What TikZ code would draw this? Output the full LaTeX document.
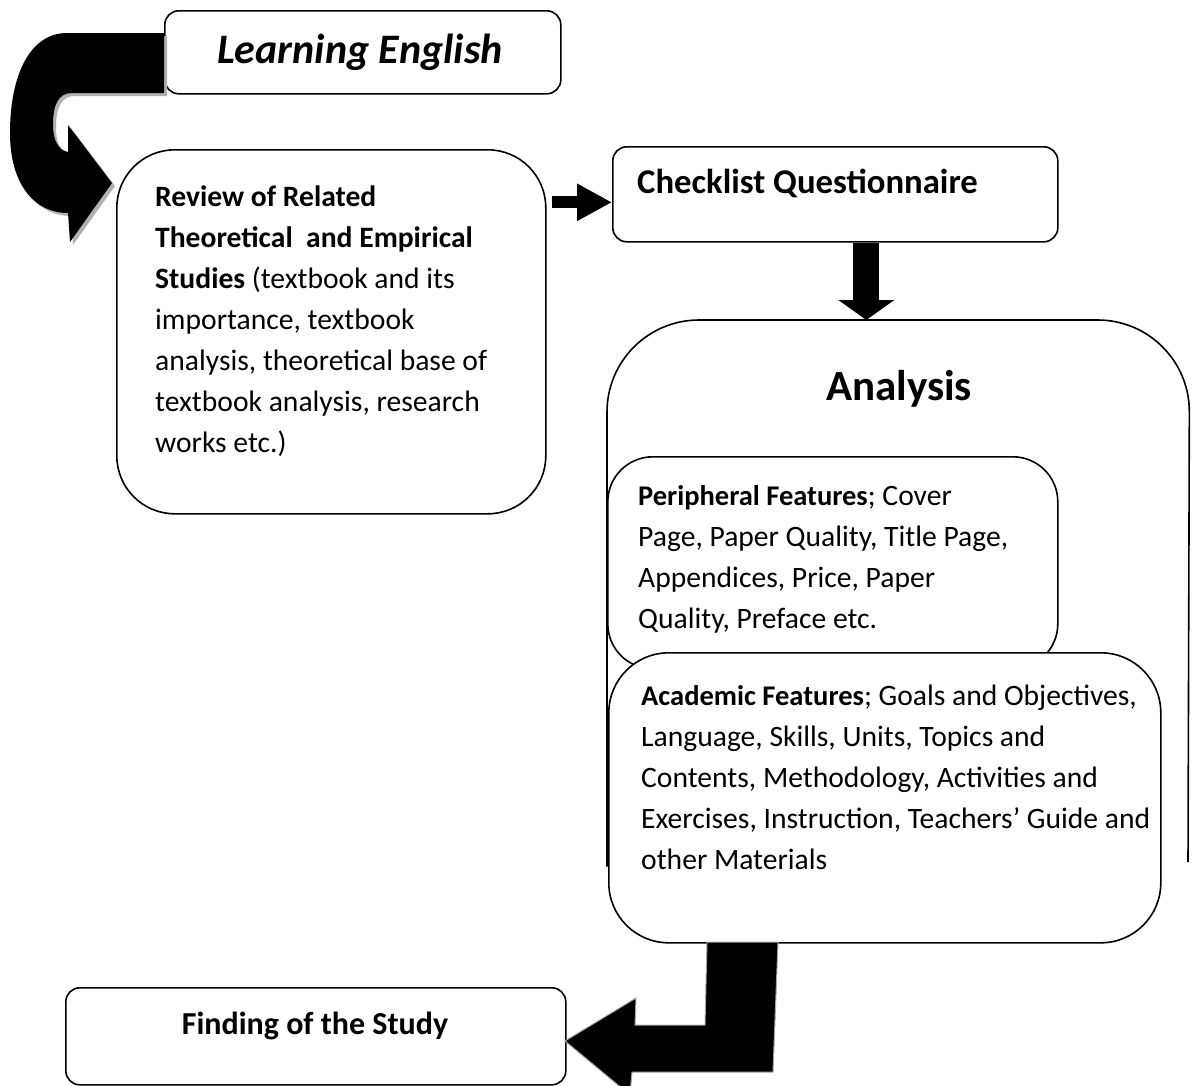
\documentclass[tikz,border=0pt]{standalone}
\usepackage{fontspec}
\setmainfont{Carlito}
\usetikzlibrary{calc,arrows.meta}
\newcommand{\bodyfont}{\fontsize{29.6}{41}\selectfont}
\newcommand{\headfont}{\fontsize{28.5}{41}\selectfont\bfseries}
\begin{document}
\begin{tikzpicture}[x=1pt,y=-1pt,
    box/.style={draw, line width=1.6pt, fill=white, anchor=north west, inner sep=0pt},
    txt/.style={inner sep=0pt, align=flush left, text width=560pt, anchor=base west, font=\bodyfont},
    title/.style={inner sep=0pt, anchor=base, font=\fontsize{#1}{#1}\selectfont\bfseries}]
\useasboundingbox (0,0) rectangle (1194,1085);

\node [box, rounded corners=14pt, minimum width=396pt, minimum height=83pt] (learn) at (164,10) {};
\node [box, rounded corners=58pt, minimum width=429pt, minimum height=364pt] (review) at (116,149) {};
\node [box, rounded corners=14pt, minimum width=445pt, minimum height=95pt] (check) at (612,146) {};
\node [box, draw=none, minimum width=581pt, minimum height=615pt] (analysis) at (607,320) {};
\draw [line width=1.6pt, rounded corners=92pt] ($(analysis.south west)+(0,-70)$) |- (analysis.north east) -- (1188,862);
\node [box, rounded corners=45pt, minimum width=450pt, minimum height=212pt] (periph) at (607,456) {};
\node [box, rounded corners=60pt, minimum width=552pt, minimum height=290pt] (acad) at (608,652) {};
\node [box, rounded corners=14pt, minimum width=500pt, minimum height=97pt] (finding) at (65,987) {};

\node [title=42] (learntxt) at (360,63) {\itshape Learning English};
\node [txt] (reviewtxt) at (155,206) {\textbf{Review of Related}\\
  \textbf{Theoretical\ \ and Empirical}\\
  \textbf{Studies} (textbook and its\\
  importance, textbook\\
  analysis, theoretical base of\\
  textbook analysis, research\\
  works etc.)};
\node [title=34.7, anchor=base west] (checktxt) at (637,193) {Checklist Questionnaire};
\node [title=43] (analysistxt) at (899,400) {Analysis};
\node [txt] (periphtxt) at (638,505) {{\headfont Peripheral Features}; Cover\\
  Page, Paper Quality, Title Page,\\
  Appendices, Price, Paper\\
  Quality, Preface etc.};
\node [txt] (acadtxt) at (641,705) {{\headfont Academic Features}; Goals and Objectives,\\
  Language, Skills, Units, Topics and\\
  Contents, Methodology, Activities and\\
  Exercises, Instruction, Teachers’ Guide and\\
  other Materials};
\node [title=32] (findingtxt) at (315,1034) {Finding of the Study};

\foreach \col/\off in {gray!60/3, black/0}
  \fill [\col, shift={(\off,\off)}] (164,33) -- (67,33)
    .. controls (30,33) and (10,75) .. (10,133)
    .. controls (10,185) and (35,213) .. (68,213)
    -- (70,242) -- (112,183) -- (68,125) -- (68,152)
    .. controls (58,150) and (53,140) .. (53,125)
    .. controls (53,105) and (58,93) .. (72,93) -- (164,93) -- cycle;

\coordinate (ra) at ($(check.west)+(0,8)$);
\draw [line width=12pt, -{Triangle[length=35pt, width=35pt]}] ($(review.east |- ra)+(5,0)$) -- (ra);

\coordinate (cs) at ($(check.south)+(31,0)$);
\draw [line width=26pt, -{Triangle[length=20pt, width=55pt]}] (cs) -- (cs |- analysis.north);

\filldraw [fill=black, draw=gray!70, line width=1pt] (707,942) -- (705,1025) -- (635,1025) -- (636,998)
  -- (565,1041) -- (630,1095) -- (632,1072) -- (773,1072) -- (778,942) -- cycle;

\end{tikzpicture}
\end{document}
